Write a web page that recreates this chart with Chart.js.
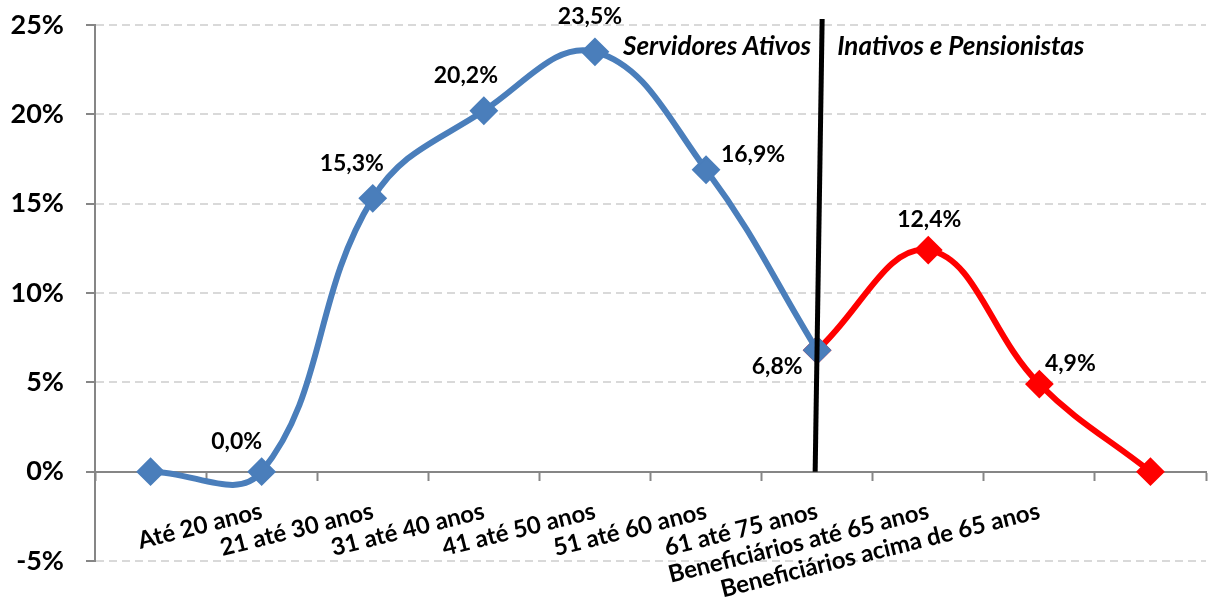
<!DOCTYPE html>
<html>
<head>
<meta charset="utf-8">
<script src="https://cdn.jsdelivr.net/npm/chart.js@4"></script>
<style>
  html, body { margin: 0; padding: 0; background: #fff; overflow: hidden; }
  #wrap { width: 1221px; height: 600px; }
</style>
</head>
<body>
<div id="wrap"><canvas id="chart"></canvas></div>
<script>
// categories (first and last slots carry no label in the original)
const categories = ['', 'Até 20 anos', '21 até 30 anos', '31 até 40 anos', '41 até 50 anos',
  '51 até 60 anos', '61 até 75 anos', 'Beneficiários até 65 anos', 'Beneficiários acima de 65 anos', ''];
const ativos = [0, 0, 15.3, 20.2, 23.5, 16.9, 6.8, null, null, null];
const inativos = [null, null, null, null, null, null, 6.8, 12.4, 4.9, 0];
const showLabel = [false, true, true, true, true, true, true, true, true, false];
const yMin = -5, yMax = 25, yStep = 5;
const leftNote = 'Servidores Ativos';
const rightNote = 'Inativos e Pensionistas';

// label offsets from each point (px)
const labelOffsets = [null, [-25, -30], [-21, -35], [-18, -35], [-5, -35], [47, -15], [-40, 16], [1, -31], [31, -21], null];

const FONT = 'Lato, "DejaVu Sans", sans-serif';
const fmt = v => v.toFixed(1).replace('.', ',') + '%';

const dataLabels = {
  id: 'dataLabels',
  afterDatasetsDraw(chart) {
    const ctx = chart.ctx;
    ctx.save();
    ctx.font = 'bold 23px ' + FONT;
    ctx.fillStyle = '#000';
    ctx.textAlign = 'center';
    ctx.textBaseline = 'middle';
    categories.forEach((c, i) => {
      if (!showLabel[i]) return;
      let el = null, val = null;
      chart.data.datasets.forEach((ds, di) => {
        if (el === null && ds.data[i] !== null) {
          el = chart.getDatasetMeta(di).data[i];
          val = ds.data[i];
        }
      });
      if (!el) return;
      const off = labelOffsets[i];
      ctx.fillText(fmt(val), el.x + off[0], el.y + off[1]);
    });
    ctx.restore();
  }
};

const divider = {
  id: 'divider',
  afterDatasetsDraw(chart) {
    const { ctx, scales: { x, y } } = chart;
    const cx = x.getPixelForValue(6);
    ctx.save();
    ctx.strokeStyle = '#000';
    ctx.lineWidth = 5;
    ctx.beginPath();
    ctx.moveTo(cx + 5, y.getPixelForValue(yMax) - 6);
    ctx.lineTo(cx - 2, y.getPixelForValue(0));
    ctx.stroke();
    ctx.font = 'italic bold 26px ' + FONT;
    ctx.fillStyle = '#000';
    ctx.textBaseline = 'middle';
    const ty = y.getPixelForValue(yMax) + 22;
    ctx.textAlign = 'right';
    ctx.fillText(leftNote, cx - 6, ty);
    ctx.textAlign = 'left';
    ctx.fillText(rightNote, cx + 20, ty);
    ctx.restore();
  }
};

const ctx = document.getElementById('chart').getContext('2d');
new Chart(ctx, {
  type: 'line',
  data: {
    labels: categories,
    datasets: [
      {
        label: 'Servidores Ativos',
        data: ativos,
        borderColor: '#4A7EBB',
        backgroundColor: '#4A7EBB',
        borderWidth: 6,
        tension: 0.4,
        pointStyle: 'rectRot',
        pointRadius: 13,
        pointBorderWidth: 2,
        spanGaps: false
      },
      {
        label: 'Inativos e Pensionistas',
        data: inativos,
        borderColor: '#FF0000',
        backgroundColor: '#FF0000',
        borderWidth: 6,
        tension: 0.4,
        pointStyle: 'rectRot',
        pointRadius: 13,
        pointBorderWidth: 2,
        spanGaps: false
      }
    ]
  },
  options: {
    responsive: true,
    maintainAspectRatio: false,
    animation: false,
    layout: { padding: { top: 25, right: 0, bottom: 39, left: 0 } },
    scales: {
      x: {
        position: { y: 0 },
        offset: true,
        afterFit: s => { s.paddingLeft = 0; s.paddingRight = 0; s.paddingTop = 0; s.paddingBottom = 0; },
        grid: { drawOnChartArea: false, offset: true, tickLength: 8, tickColor: '#868686', tickWidth: 2 },
        border: { color: '#868686', width: 2 },
        ticks: {
          autoSkip: false,
          minRotation: 14,
          maxRotation: 14,
          padding: 17,
          color: '#000',
          font: { family: FONT, size: 24, weight: 'bold' }
        }
      },
      y: {
        min: yMin,
        max: yMax,
        afterFit: s => { s.width = 95; s.paddingTop = 0; s.paddingBottom = 0; },
        grid: { color: '#d9d9d9', lineWidth: 2, tickColor: '#868686', tickWidth: 2, tickLength: 9 },
        border: { color: '#868686', width: 2, dash: [8, 5] },
        ticks: {
          stepSize: yStep,
          padding: 22,
          color: '#000',
          font: { family: FONT, size: 27, weight: 'bold' },
          callback: v => v + '%'
        }
      }
    },
    plugins: {
      legend: { display: false },
      tooltip: { enabled: false }
    }
  },
  plugins: [dataLabels, divider]
});
</script>
</body>
</html>
